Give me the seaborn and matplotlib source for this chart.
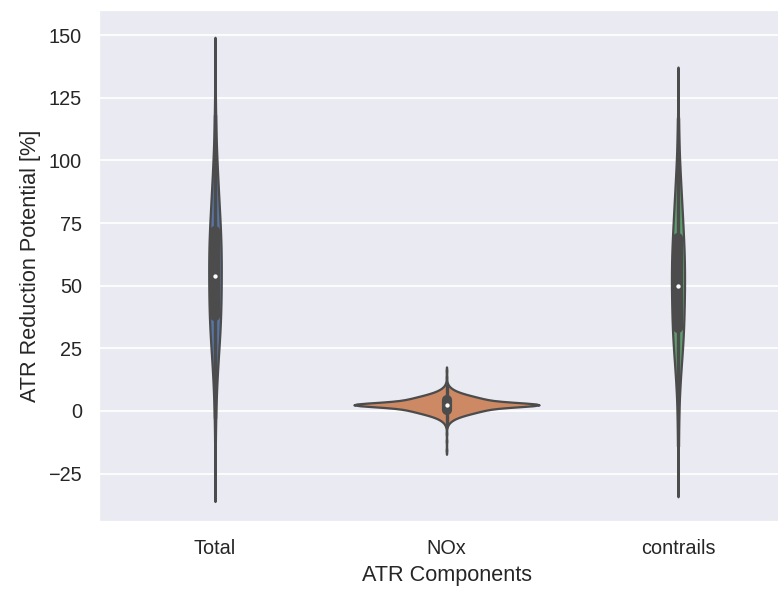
import numpy as np
import pandas as pd
import matplotlib
matplotlib.use("Agg")
import matplotlib.pyplot as plt
import seaborn as sns

categories = ["Total", "NOx", "contrails"]

# ATR reduction potential samples per component, given as value / count tables
total_values = [-15, -3, 4, 9, 14, 19, 24, 29, 34, 39, 44, 49, 54, 59, 64, 69, 72,
                78, 84, 89, 94, 99, 104, 110, 118, 128]
total_counts = [1, 1, 1, 2, 2, 3, 4, 6, 7, 7, 7, 7, 8, 7, 7, 7, 6,
                6, 5, 4, 3, 2, 2, 1, 1, 1]

nox_values = [-15.7, -12, -9, -6.5, -5.5, -4.5, -3.5, -2.5, -1.5, -0.5, 0.5, 1.5, 2.5,
              3.5, 4.5, 5.5, 6.5, 7.5, 8.5, 9.5, 10.5, 11.5, 13.5, 16]
nox_counts = [1, 1, 1, 1, 2, 5, 10, 18, 31, 46, 62, 73, 204,
              73, 62, 46, 31, 18, 10, 5, 2, 1, 1, 1]

contrails_values = [-14, -2, 5, 10, 15, 20, 25, 30, 33, 40, 45, 50, 55, 60, 65, 69,
                    75, 80, 85, 90, 95, 100, 107, 117]
contrails_counts = [1, 1, 1, 2, 3, 3, 5, 6, 7, 7, 7, 8, 7, 7, 7, 6,
                    5, 5, 4, 3, 2, 2, 1, 1]

x_label = "ATR Components"
y_label = "ATR Reduction Potential [%]"

tables = [(categories[0], total_values, total_counts),
          (categories[1], nox_values, nox_counts),
          (categories[2], contrails_values, contrails_counts)]
df = pd.concat(
    [pd.DataFrame({x_label: name, y_label: np.repeat(vals, cnts)})
     for name, vals, cnts in tables],
    ignore_index=True,
)

sns.set_theme()
plt.rcParams["font.family"] = ["Liberation Sans", "DejaVu Sans"]

W, H, DPI = 778, 592, 130
fig = plt.figure(figsize=(W / DPI, H / DPI), dpi=DPI)
ax = fig.add_axes([99.25 / W, 70 / H, 694.5 / W, 512 / H])

sns.violinplot(data=df, x=x_label, y=y_label, hue=x_label,
               order=categories, hue_order=categories, legend=False,
               common_norm=True, inner_kws=dict(marker="."), ax=ax)

# small white median dots
for line in ax.lines:
    if line.get_marker() == ".":
        line.set_marker("o")
        line.set_markersize(2.4)
        line.set_markeredgewidth(0)
        line.set_markerfacecolor("white")

ax.set_xlim(-0.5, 2.5)
ax.set_ylim(-44.3, 160)
ax.set_yticks([-25, 0, 25, 50, 75, 100, 125, 150])

fig.savefig("out.png", dpi=DPI)
